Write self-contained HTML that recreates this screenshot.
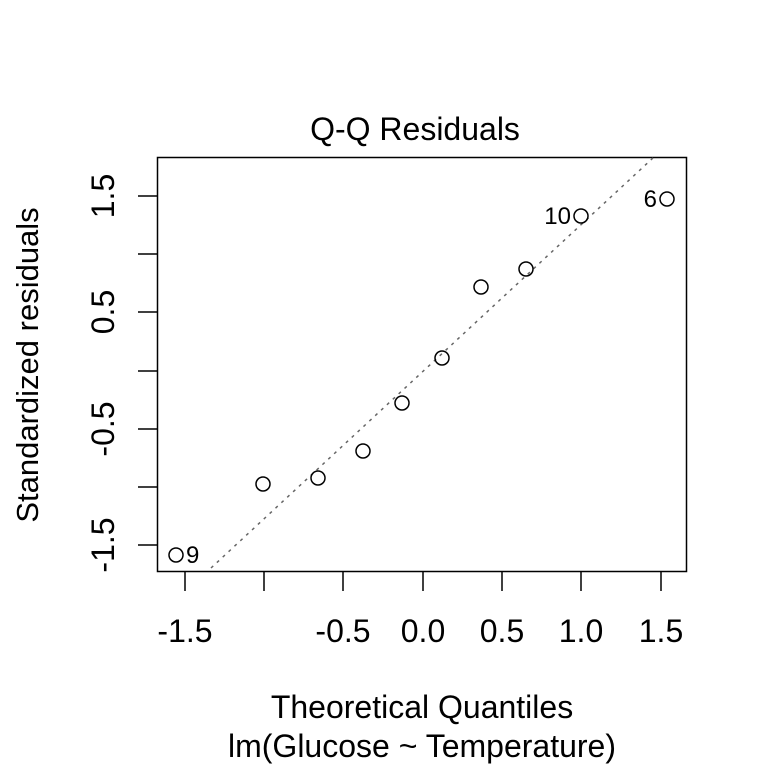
<!DOCTYPE html>
<html><head><style>body{margin:0;background:#fff}</style></head><body>
<svg width="768" height="768" xmlns="http://www.w3.org/2000/svg" font-family="Liberation Sans, Arial, sans-serif">
<rect width="768" height="768" fill="#fff"/>
<text x="415" y="140" font-size="32" text-anchor="middle">Q-Q Residuals</text>
<rect x="157.5" y="157.5" width="529" height="414" fill="none" stroke="#000" stroke-width="1.5"/>
<line x1="211" y1="568" x2="654" y2="157" stroke="#666" stroke-width="1.5" stroke-dasharray="3,5"/>
<g stroke="#000" stroke-width="1.5">
<line x1="185" y1="572" x2="185" y2="591"/><line x1="264" y1="572" x2="264" y2="591"/>
<line x1="343" y1="572" x2="343" y2="591"/><line x1="423" y1="572" x2="423" y2="591"/>
<line x1="502" y1="572" x2="502" y2="591"/><line x1="581" y1="572" x2="581" y2="591"/>
<line x1="661" y1="572" x2="661" y2="591"/>
<line x1="138" y1="545" x2="157" y2="545"/><line x1="138" y1="487" x2="157" y2="487"/>
<line x1="138" y1="429" x2="157" y2="429"/><line x1="138" y1="371" x2="157" y2="371"/>
<line x1="138" y1="312" x2="157" y2="312"/><line x1="138" y1="254" x2="157" y2="254"/>
<line x1="138" y1="196" x2="157" y2="196"/>
</g>
<g font-size="32" text-anchor="middle">
<text x="185" y="642">-1.5</text><text x="343" y="642">-0.5</text><text x="423" y="642">0.0</text>
<text x="502" y="642">0.5</text><text x="581" y="642">1.0</text><text x="661" y="642">1.5</text>
<text transform="translate(114,545) rotate(-90)">-1.5</text>
<text transform="translate(114,429) rotate(-90)">-0.5</text>
<text transform="translate(114,312) rotate(-90)">0.5</text>
<text transform="translate(114,196) rotate(-90)">1.5</text>
<text font-size="31" transform="translate(38,365) rotate(-90)">Standardized residuals</text>
<text x="422" y="718">Theoretical Quantiles</text>
<text x="422" y="757">lm(Glucose ~ Temperature)</text>
</g>
<g font-size="24">
<text x="186" y="563">9</text>
<text x="571" y="224" text-anchor="end">10</text>
<text x="657" y="207" text-anchor="end">6</text>
</g>
<g fill="none" stroke="#000" stroke-width="1.5">
<circle cx="176" cy="555" r="7"/><circle cx="263" cy="484" r="7"/><circle cx="318" cy="478" r="7"/>
<circle cx="363" cy="451" r="7"/><circle cx="402" cy="403" r="7"/><circle cx="442" cy="358" r="7"/>
<circle cx="481" cy="287" r="7"/><circle cx="526" cy="269" r="7"/><circle cx="581" cy="216" r="7"/>
<circle cx="667" cy="199" r="7"/>
</g>
</svg>
</body></html>
